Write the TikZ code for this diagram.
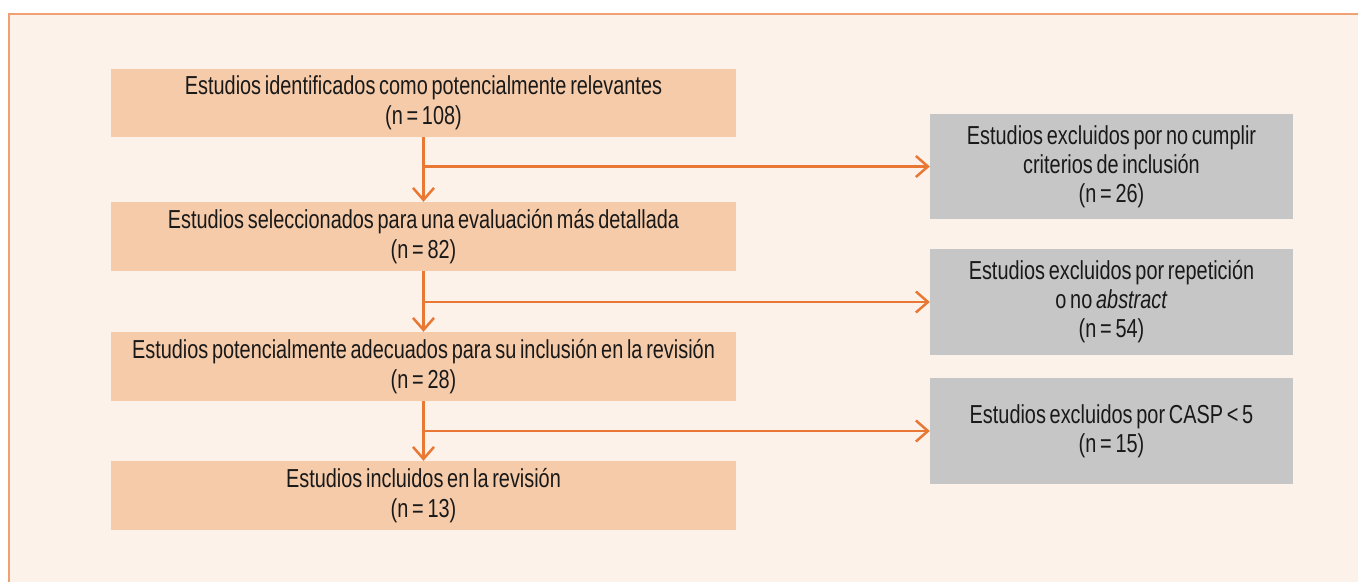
\documentclass[tikz,border=0pt]{standalone}
\usepackage{fontspec}
\setmainfont[FakeStretch=0.765,WordSpace=0.68]{Liberation Sans}
\usetikzlibrary{arrows.meta}
\definecolor{bgcol}{RGB}{253,242,233}
\definecolor{framecol}{RGB}{240,160,115}
\definecolor{peach}{RGB}{245,203,170}
\definecolor{greybox}{RGB}{198,198,198}
\definecolor{orangeline}{RGB}{232,120,52}
\definecolor{txt}{RGB}{25,25,25}
\tikzset{
  mainbox/.style={rectangle, fill=peach, draw=none, inner sep=0pt,
    minimum width=625pt, minimum height=69pt, align=center,
    font=\fontsize{26}{30}\selectfont, text=txt},
  exclbox/.style={rectangle, fill=greybox, draw=none, inner sep=0pt,
    minimum width=363pt, minimum height=106pt, align=center,
    font=\fontsize{26}{29}\selectfont, text=txt},
  flow/.style={draw=orangeline, line width=2.5pt,
    -{Straight Barb[length=12pt,width=21pt,line width=2.5pt]}}
}
\begin{document}
\begin{tikzpicture}[x=1pt,y=-1pt]
\useasboundingbox (0,0) rectangle (1358,582);
\fill[white] (0,0) rectangle (1358,582);
\fill[bgcol] (9,14) rectangle (1358,582);
\draw[framecol, line width=1.5pt] (9,582) -- (9,14) -- (1358,14);

\node[mainbox, minimum height=68pt] (b1) at (423.5,103) {Estudios identificados como potencialmente relevantes\\(n = 108)};
\node[mainbox] (b2) at (423.5,236.5) {Estudios seleccionados para una evaluación más detallada\\(n = 82)};
\node[mainbox] (b3) at (423.5,366.5) {Estudios potencialmente adecuados para su inclusión en la revisión\\(n = 28)};
\node[mainbox] (b4) at (423.5,495.5) {Estudios incluidos en la revisión\\(n = 13)};

\node[exclbox, minimum height=105pt] (g1) at (1111.5,166.5) {Estudios excluidos por no cumplir\\criterios de inclusión\\(n = 26)};
\node[exclbox] (g2) at (1111.5,302) {Estudios excluidos por repetición\\o no \textit{abstract}\\(n = 54)};
\node[exclbox] (g3) at (1111.5,431) {Estudios excluidos por CASP < 5\\(n = 15)};

\draw[flow] (b1) -- (b2);
\draw[flow] (b2) -- (b3);
\draw[flow] (b3) -- (b4);

\coordinate (j1) at (b1.south |- g1.west);
\coordinate (j2) at (b2.south |- g2.west);
\coordinate (j3) at (b3.south |- g3.west);
\draw[flow] (j1) -- (g1.west);
\draw[flow] (j2) -- (g2.west);
\draw[flow] (j3) -- (g3.west);
\end{tikzpicture}
\end{document}
